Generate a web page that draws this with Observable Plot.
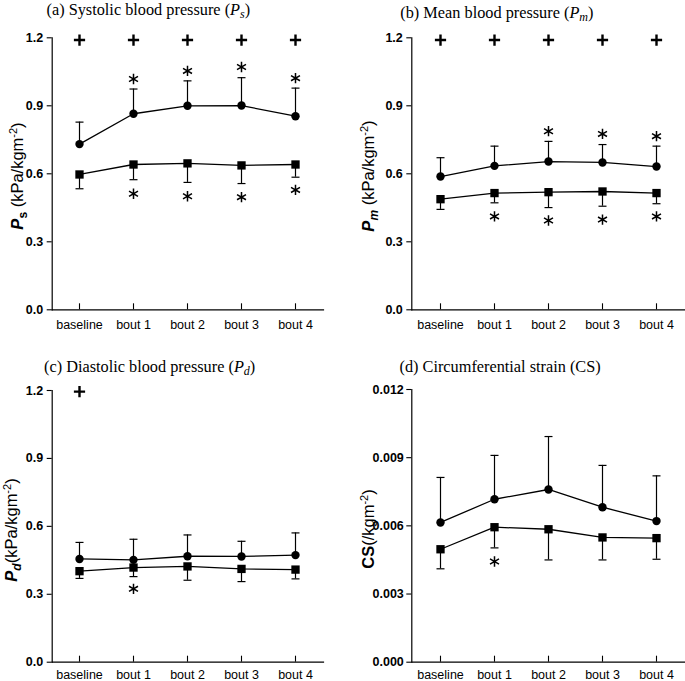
<!DOCTYPE html>
<html><head><meta charset="utf-8">
<script src="https://cdn.jsdelivr.net/npm/d3@7"></script>
<script src="https://cdn.jsdelivr.net/npm/@observablehq/plot@0.6"></script>
<style>
body{margin:0;background:#fff;}
#wrap{position:relative;width:685px;height:681px;background:#fff;overflow:hidden;}
#wrap svg{position:absolute;}
</style></head><body><div id="wrap"></div>
<script>
// ---- data ----
const categories = ["baseline", "bout 1", "bout 2", "bout 3", "bout 4"];
const pressureTicks = [0, 0.3, 0.6, 0.9, 1.2];
const strainTicks = [0, 0.003, 0.006, 0.009, 0.012];

// (a) systolic
const sysCircle = [0.731, 0.865, 0.900, 0.901, 0.854];
const sysCircleUpper = [0.828, 0.974, 1.010, 1.024, 0.978];
const sysSquare = [0.597, 0.641, 0.646, 0.637, 0.641];
const sysSquareLower = [0.534, 0.574, 0.562, 0.557, 0.585];
const sysStarUpper = [null, 1.018, 1.054, 1.071, 1.022];
const sysStarLower = [null, 0.512, 0.501, 0.497, 0.529];
const sysPlus = [1.19, 1.19, 1.19, 1.19, 1.19];

// (b) mean
const meanCircle = [0.588, 0.635, 0.654, 0.650, 0.632];
const meanCircleUpper = [0.671, 0.722, 0.743, 0.729, 0.722];
const meanSquare = [0.488, 0.515, 0.519, 0.522, 0.515];
const meanSquareLower = [0.443, 0.472, 0.451, 0.457, 0.468];
const meanStarUpper = [null, null, 0.788, 0.776, 0.766];
const meanStarLower = [null, 0.412, 0.394, 0.398, 0.412];
const meanPlus = [1.19, 1.19, 1.19, 1.19, 1.19];

// (c) diastolic
const diaCircle = [0.456, 0.452, 0.468, 0.467, 0.473];
const diaCircleUpper = [0.529, 0.543, 0.562, 0.534, 0.571];
const diaSquare = [0.402, 0.418, 0.423, 0.412, 0.409];
const diaSquareLower = [0.370, 0.378, 0.362, 0.356, 0.368];
const diaStarUpper = [null, null, null, null, null];
const diaStarLower = [null, 0.324, null, null, null];
const diaPlus = [1.195, null, null, null, null];

// (d) circumferential strain
const csCircle = [0.00615, 0.00717, 0.00760, 0.00682, 0.00621];
const csCircleUpper = [0.00813, 0.00910, 0.00993, 0.00866, 0.00820];
const csSquare = [0.00497, 0.00594, 0.00585, 0.00549, 0.00546];
const csSquareLower = [0.00411, 0.00503, 0.00450, 0.00450, 0.00453];
const csStarUpper = [null, null, null, null, null];
const csStarLower = [null, 0.00443, null, null, null];
const csPlus = [null, null, null, null, null];

// ---- drawing ----
const SANS = "'Liberation Sans', Arial, Helvetica, sans-serif";
const SERIF = "'Liberation Serif', 'Times New Roman', Times, serif";
const capSymbol = {draw(ctx, size) { const r = Math.sqrt(size / Math.PI); ctx.moveTo(-r, 0); ctx.lineTo(r, 0); }};

function richText(parent, attrs, parts) {
  const t = parent.append("text");
  for (const [k, v] of Object.entries(attrs)) t.attr(k, v);
  let shift = 0;
  for (const p of parts) {
    const s = t.append("tspan").text(p.text);
    const target = p.shift || 0;
    if (target !== shift) { s.attr("dy", target - shift); shift = target; }
    if (p.weight) s.attr("font-weight", p.weight);
    if (p.style) s.attr("font-style", p.style);
    if (p.size) s.attr("font-size", p.size);
  }
  return t;
}

function panel(cfg) {
  const frameH = cfg.height - cfg.marginTop - cfg.marginBottom;
  const rows = categories.map((c, i) => ({
    cat: c, circle: cfg.circle[i], circleUpper: cfg.circleUpper[i],
    square: cfg.square[i], squareLower: cfg.squareLower[i],
    starUp: cfg.starUpper[i], starLow: cfg.starLower[i], plus: cfg.plus[i]
  }));
  const svg = Plot.plot({
    width: cfg.width, height: cfg.height,
    marginTop: cfg.marginTop, marginBottom: cfg.marginBottom,
    marginLeft: cfg.marginLeft, marginRight: cfg.marginRight,
    style: {background: "transparent", overflow: "visible", fontFamily: SANS, color: "black"},
    x: {type: "point", domain: categories, padding: 0.5},
    y: {domain: cfg.domain},
    marks: [
      Plot.frame({anchor: "left", stroke: "black", strokeWidth: 1.2}),
      Plot.frame({anchor: "bottom", stroke: "black", strokeWidth: 1.2}),
      Plot.axisY({ticks: cfg.ticks, tickFormat: cfg.format, tickSize: 5, tickPadding: cfg.yPad,
        fontSize: 12.5, fontWeight: "bold", label: null, strokeWidth: 1.1}),
      Plot.axisX({tickSize: 0, tickPadding: cfg.xPad, fontSize: 12.5, label: null}),
      Plot.tickX(categories, {x: d => d, insetTop: frameH - 6, stroke: "black", strokeWidth: 1.1}),
      Plot.ruleX(rows, {x: "cat", y1: "circle", y2: "circleUpper", stroke: "black", strokeWidth: 1.2}),
      Plot.dot(rows, {x: "cat", y: "circleUpper", symbol: capSymbol, r: 4, stroke: "black", strokeWidth: 1.2}),
      Plot.ruleX(rows, {x: "cat", y1: "square", y2: "squareLower", stroke: "black", strokeWidth: 1.2}),
      Plot.dot(rows, {x: "cat", y: "squareLower", symbol: capSymbol, r: 4, stroke: "black", strokeWidth: 1.2}),
      Plot.line(rows, {x: "cat", y: "circle", stroke: "black", strokeWidth: 1.3}),
      Plot.line(rows, {x: "cat", y: "square", stroke: "black", strokeWidth: 1.3}),
      Plot.dot(rows, {x: "cat", y: "circle", r: 4.2, fill: "black", stroke: null}),
      Plot.dot(rows, {x: "cat", y: "square", symbol: "square", r: 4.7, fill: "black", stroke: null}),
      Plot.dot(rows.filter(d => d.starUp != null), {x: "cat", y: "starUp", symbol: "asterisk", r: 4.9, stroke: "black", strokeWidth: 1.5}),
      Plot.dot(rows.filter(d => d.starLow != null), {x: "cat", y: "starLow", symbol: "asterisk", r: 4.9, stroke: "black", strokeWidth: 1.5}),
      Plot.dot(rows.filter(d => d.plus != null), {x: "cat", y: "plus", symbol: "plus", r: 3.7, stroke: "black", strokeWidth: 2.4})
    ]
  });
  const s = d3.select(svg);
  s.selectAll('g[aria-label="y-axis tick label"] text').attr("font-weight", "bold");
  s.style("left", cfg.left + "px").style("top", cfg.top + "px");
  // title
  richText(s, {x: cfg.titleX, y: cfg.titleY, "text-anchor": "start", "font-family": SERIF, "font-size": 16.3, fill: "black"}, cfg.title);
  // y label
  richText(s, {transform: `translate(${cfg.labelX},${cfg.labelY}) rotate(-90)`, "text-anchor": "middle",
    "font-family": SANS, "font-size": 16.5, fill: "black"}, cfg.label);
  document.getElementById("wrap").appendChild(svg);
}

const f1 = d3.format(".1f"), f3 = d3.format(".3f");
const unitParts = [{text: " (kPa/kgm"}, {text: "-2", size: 11, shift: -6}, {text: ")", shift: 0}];

panel({left: 0, top: 0, width: 342, height: 340, marginTop: 37.3, marginBottom: 30.7, marginLeft: 51.7, marginRight: 19,
  domain: [0, 1.2], ticks: pressureTicks, format: f1, yPad: 4, xPad: 10,
  circle: sysCircle, circleUpper: sysCircleUpper, square: sysSquare, squareLower: sysSquareLower,
  starUpper: sysStarUpper, starLower: sysStarLower, plus: sysPlus,
  titleX: 46.5, titleY: 14.8,
  title: [{text: "(a) Systolic blood pressure ("}, {text: "P", style: "italic"}, {text: "s", style: "italic", size: 12, shift: 3}, {text: ")", shift: 0}],
  labelX: 23, labelY: 176,
  label: [{text: "P", weight: "bold", style: "italic"}, {text: "s", weight: "bold", size: 12, shift: 4}, {...unitParts[0], shift: 0}, unitParts[1], unitParts[2]]
});

panel({left: 342, top: 0, width: 343, height: 340, marginTop: 37.3, marginBottom: 30.7, marginLeft: 69.3, marginRight: 0,
  domain: [0, 1.2], ticks: pressureTicks, format: f1, yPad: 4, xPad: 10,
  circle: meanCircle, circleUpper: meanCircleUpper, square: meanSquare, squareLower: meanSquareLower,
  starUpper: meanStarUpper, starLower: meanStarLower, plus: meanPlus,
  titleX: 58.3, titleY: 18,
  title: [{text: "(b) Mean blood pressure ("}, {text: "P", style: "italic"}, {text: "m", style: "italic", size: 12, shift: 3}, {text: ")", shift: 0}],
  labelX: 32, labelY: 176,
  label: [{text: "P", weight: "bold", style: "italic"}, {text: "m", weight: "bold", style: "italic", size: 12, shift: 4}, {...unitParts[0], shift: 0}, unitParts[1], unitParts[2]]
});

panel({left: 0, top: 340, width: 342, height: 341, marginTop: 50, marginBottom: 19.3, marginLeft: 51.7, marginRight: 19,
  domain: [0, 1.2], ticks: pressureTicks, format: f1, yPad: 4, xPad: 8,
  circle: diaCircle, circleUpper: diaCircleUpper, square: diaSquare, squareLower: diaSquareLower,
  starUpper: diaStarUpper, starLower: diaStarLower, plus: diaPlus,
  titleX: 44, titleY: 31.7,
  title: [{text: "(c) Diastolic blood pressure ("}, {text: "P", style: "italic"}, {text: "d", style: "italic", size: 12, shift: 3}, {text: ")", shift: 0}],
  labelX: 17, labelY: 190,
  label: [{text: "P", weight: "bold", style: "italic"}, {text: "d", weight: "bold", style: "italic", size: 12, shift: 4}, {text: "(kPa/kgm", shift: 0}, unitParts[1], unitParts[2]]
});

panel({left: 342, top: 340, width: 343, height: 341, marginTop: 49, marginBottom: 19.3, marginLeft: 69.3, marginRight: 0,
  domain: [0, 0.012], ticks: strainTicks, format: f3, yPad: 3, xPad: 8,
  circle: csCircle, circleUpper: csCircleUpper, square: csSquare, squareLower: csSquareLower,
  starUpper: csStarUpper, starLower: csStarLower, plus: csPlus,
  titleX: 57.5, titleY: 31.7,
  title: [{text: "(d) Circumferential strain (CS)"}],
  labelX: 32, labelY: 189,
  label: [{text: "CS", weight: "bold"}, {text: "(/kgm"}, unitParts[1], unitParts[2]]
});
</script></body></html>
